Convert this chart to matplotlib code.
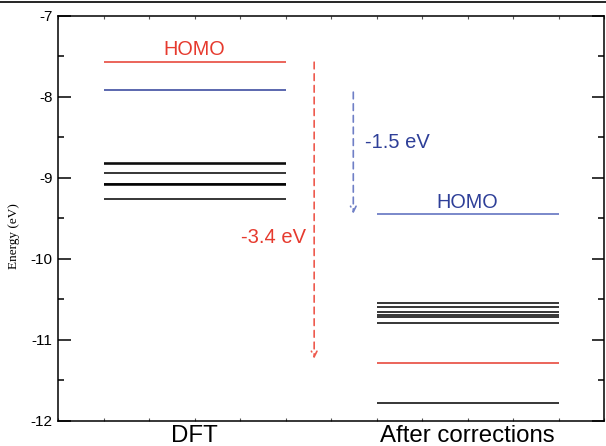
import matplotlib
matplotlib.use("Agg")
import matplotlib.pyplot as plt
from matplotlib.lines import Line2D
import numpy as np

plt.rcParams['font.family'] = ['Liberation Sans', 'DejaVu Sans']

# Data
categories = ["DFT", "After corrections"]
cat_pos = [3, 9]
dft_homo = -7.57
dft_second = -7.91
dft_levels = [-8.81, -8.83, -8.935, -9.07, -9.08, -9.09, -9.255]
corr_homo = -9.45
corr_red = -11.29
corr_levels = [-10.54, -10.59, -10.66, -10.69, -10.71, -10.79, -11.775]
red_arrow = (-7.57, -11.23)
blue_arrow = (-7.94, -9.44)
red_shift_label = "-3.4 eV"
blue_shift_label = "-1.5 eV"
yticks = [-7, -8, -9, -10, -11, -12]

RED = "#e63a2e"
BLUE_D = "#2e3f98"
BLUE_L = "#6f7fc6"

fig = plt.figure(figsize=(6.06, 4.46), dpi=100)
ax = fig.add_axes([58/606, 1-421/446, (604-58)/606, (421-16)/446])

half = 2
lw = 1.1
# DFT
x0 = cat_pos[0]
ax.hlines(dft_homo, x0-half, x0+half, color=RED, lw=lw)
ax.hlines(dft_second, x0-half, x0+half, color=BLUE_D, lw=lw)
ax.hlines(dft_levels, x0-half, x0+half, color="black", lw=lw)
# After corrections
x1 = cat_pos[1]
ax.hlines(corr_homo, x1-half, x1+half, color=BLUE_L, lw=lw+0.2)
ax.hlines(corr_red, x1-half, x1+half, color=RED, lw=lw)
ax.hlines(corr_levels, x1-half, x1+half, color="black", lw=lw)

# Arrows
ax.annotate("", xy=(5.63, red_arrow[1]), xytext=(5.63, red_arrow[0]),
            arrowprops=dict(arrowstyle="->", color="#ee5a4e", lw=1.2, ls=(0, (4, 3)),
                            shrinkA=0, shrinkB=0, mutation_scale=10))
ax.annotate("", xy=(6.49, blue_arrow[1]), xytext=(6.49, blue_arrow[0]),
            arrowprops=dict(arrowstyle="->", color=BLUE_L, lw=1.2, ls=(0, (4, 3)),
                            shrinkA=0, shrinkB=0, mutation_scale=10))

ax.text(x0, -7.41, "HOMO", color=RED, fontsize=14.3, ha="center", va="center")
ax.text(x1, -9.30, "HOMO", color=BLUE_D, fontsize=14.3, ha="center", va="center")
ax.text(5.45, -9.74, red_shift_label, color=RED, fontsize=14.5, ha="right", va="center")
ax.text(6.75, -8.56, blue_shift_label, color=BLUE_D, fontsize=14.5, ha="left", va="center")

ax.set_xlim(0, 12)
ax.set_ylim(-12, -7)
ax.set_yticks(yticks)
ax.set_yticklabels([str(v) for v in yticks], fontsize=11)
ax.set_yticks(np.arange(-11.5, -7, 1.0), minor=True)
ax.set_xticks(range(0, 13))
ax.set_xticklabels([])
ax.tick_params(axis="y", which="major", direction="in", length=9, width=1.1, right=True, pad=4)
ax.tick_params(axis="y", which="minor", direction="in", length=4.5, width=1.1, right=True)
ax.tick_params(axis="x", which="major", direction="in", length=2.5, width=0.8, top=True, color="#555555")
for s in ax.spines.values():
    s.set_linewidth(1.1)

for pos, lab in zip(cat_pos, categories):
    ax.text(pos, -12.055, lab, fontsize=17.3, ha="center", va="top", transform=ax.transData)

fig.text(14/606, 1-236/446, "Energy (eV)", fontsize=9.5, rotation=90, ha="center", va="center",
         family=["Liberation Serif", "DejaVu Serif"])

fig.add_artist(Line2D([0, 1], [1-1.5/446, 1-1.5/446], color="black", lw=1.2, transform=fig.transFigure))

fig.savefig("out.png", dpi=100)
